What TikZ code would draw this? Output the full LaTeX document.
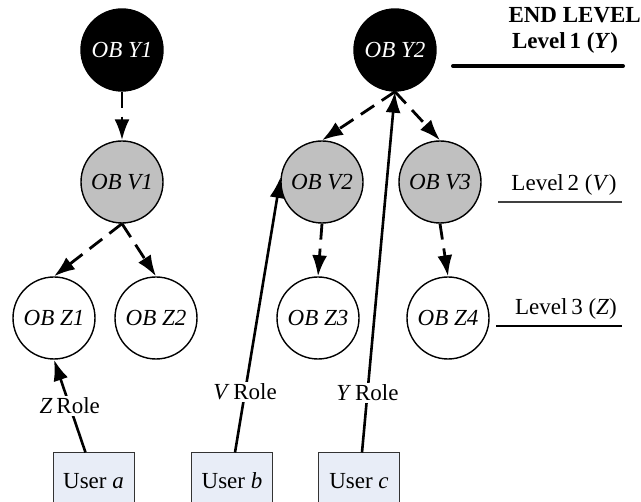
\documentclass[tikz,border=0pt]{standalone}
\usepackage{fontspec}
\setmainfont{Liberation Serif}
\usetikzlibrary{arrows.meta,calc}
\definecolor{greyfill}{HTML}{C0C0C0}
\definecolor{userfill}{HTML}{E8EDF7}
\begin{document}
\begin{tikzpicture}[x=1pt,y=-1pt,
  every node/.style={font=\fontsize{23}{27}\selectfont},
  obnode/.style={circle,draw=black,line width=1.4pt,minimum size=82pt,inner sep=0pt,font=\fontsize{23}{27}\selectfont\itshape},
  topob/.style={obnode,fill=black,text=white},
  midob/.style={obnode,fill=greyfill},
  lowob/.style={obnode,fill=white},
  userbox/.style={rectangle,draw=black!80,line width=1pt,fill=userfill,minimum width=81pt,minimum height=56pt,inner sep=0pt},
  dasharrow/.style={line width=2.8pt,dash pattern=on 16pt off 9pt,-{Latex[length=21pt,width=15pt]}},
  rolearrow/.style={line width=2.6pt,-{Latex[length=21pt,width=15pt]}},
  rolelabel/.style={fill=white,inner sep=2pt},
  levellabel/.style={inner sep=0pt}
]
\useasboundingbox (0,0) rectangle (641,502);
\begin{scope}
\clip (0,0) rectangle (641,502);
% nodes
\node[topob] (y1) at (122,50) {OB Y1};
\node[topob] (y2) at (395,50) {OB Y2};
\node[midob] (v1) at (122,182) {OB V1};
\node[midob] (v2) at (322,182) {OB V2};
\node[midob] (v3) at (440,182) {OB V3};
\node[lowob] (z1) at (54,318) {OB Z1};
\node[lowob] (z2) at (156,318) {OB Z2};
\node[lowob] (z3) at (318,318) {OB Z3};
\node[lowob] (z4) at (448,318) {OB Z4};
\node[userbox] (ua) at (93.5,481) {User \textit{a}};
\node[userbox] (ub) at (232,481) {User \textit{b}};
\node[userbox] (uc) at (359,481) {User \textit{c}};
% dashed hierarchy arrows
\draw[dasharrow] (y1.south) -- (v1.north);
\draw[dasharrow] (v1.south) -- (z1.north);
\draw[dasharrow] (v1.south) -- (z2.north);
\draw[dasharrow] (y2.south) -- (v2.north);
\draw[dasharrow] (y2.south) -- (v3.north);
\draw[dasharrow] (v2.south) -- (z3.north);
\draw[dasharrow] (v3.south) -- (z4.north);
% role arrows
\coordinate (uatop) at ($(ua.north)+(-8,0)$);
\coordinate (ubtop) at ($(ub.north)+(3,0)$);
\coordinate (uctop) at ($(uc.north)+(3,0)$);
\draw[rolearrow] (uatop) -- node[rolelabel,pos=0.5] (zr) {\textit{Z}\,Role} (z1.south);
\draw[rolearrow] (ubtop) -- node[rolelabel,pos=0.22] (vr) {\textit{V}\,Role} (v2.173);
\draw[rolearrow] (uctop) -- node[rolelabel,pos=0.165] (yr) {\textit{Y}\,Role} (y2.south);
% level labels
\node[levellabel,anchor=east,font=\fontsize{23}{27}\selectfont\bfseries] (endlvl) at (641,15) {END LEVEL};
\node[levellabel,font=\fontsize{23}{27}\selectfont\bfseries] (lvl1) at (565,43) {Level\,1 (\textit{Y})};
\node[levellabel] (lvl2) at (564,185) {Level\,2 (\textit{V})};
\node[levellabel] (lvl3) at (566,309) {Level\,3 (\textit{Z})};
\coordinate (l1a) at (453,66); \coordinate (l1b) at (623,66);
\coordinate (l2a) at (498,202); \coordinate (l2b) at (622,202);
\coordinate (l3a) at (496,326); \coordinate (l3b) at (622,326);
\draw[line width=4pt,line cap=round] (l1a) -- (l1b);
\draw[line width=1.3pt,black!75] (l2a) -- (l2b);
\draw[line width=2.4pt] (l3a) -- (l3b);
\end{scope}
\end{tikzpicture}
\end{document}
